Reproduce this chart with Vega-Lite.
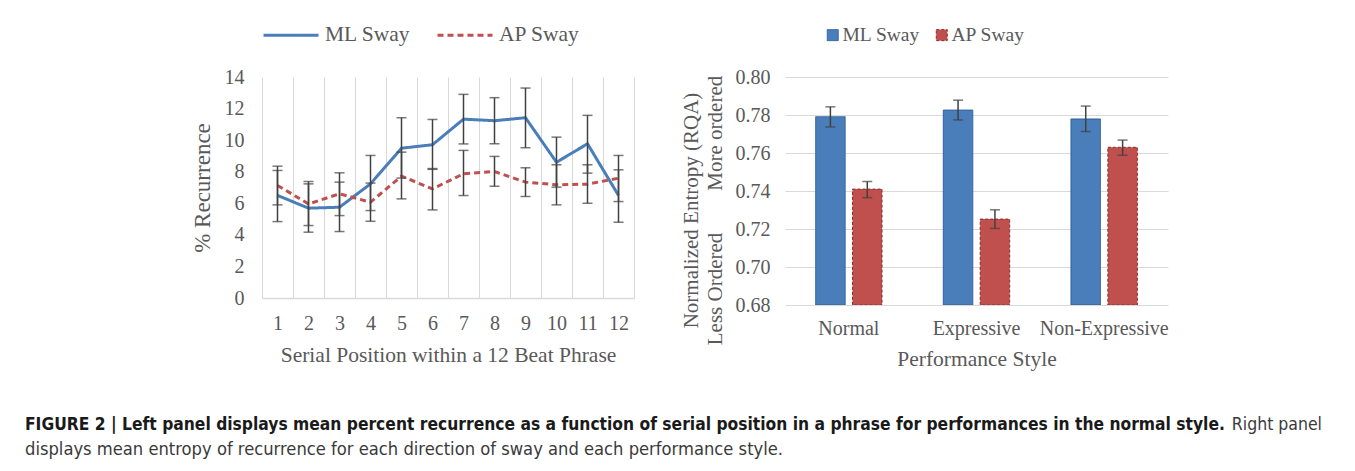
{
  "$schema": "https://vega.github.io/schema/vega-lite/v6.json",
  "padding": {"left": 25, "top": 6, "right": 15, "bottom": 5},
  "background": "white",
  "datasets": {
    "sway": [
      {"pos": 1, "dir": "ML Sway", "mean": 6.5, "lo": 4.84, "hi": 8.35},
      {"pos": 2, "dir": "ML Sway", "mean": 5.69, "lo": 4.17, "hi": 7.23},
      {"pos": 3, "dir": "ML Sway", "mean": 5.75, "lo": 4.21, "hi": 7.34},
      {"pos": 4, "dir": "ML Sway", "mean": 7.23, "lo": 5.54, "hi": 9.03},
      {"pos": 5, "dir": "ML Sway", "mean": 9.49, "lo": 7.6, "hi": 11.42},
      {"pos": 6, "dir": "ML Sway", "mean": 9.71, "lo": 8.15, "hi": 11.31},
      {"pos": 7, "dir": "ML Sway", "mean": 11.33, "lo": 9.76, "hi": 12.9},
      {"pos": 8, "dir": "ML Sway", "mean": 11.23, "lo": 9.77, "hi": 12.69},
      {"pos": 9, "dir": "ML Sway", "mean": 11.42, "lo": 9.52, "hi": 13.3},
      {"pos": 10, "dir": "ML Sway", "mean": 8.6, "lo": 7.02, "hi": 10.19},
      {"pos": 11, "dir": "ML Sway", "mean": 9.77, "lo": 7.91, "hi": 11.57},
      {"pos": 12, "dir": "ML Sway", "mean": 6.5, "lo": 4.8, "hi": 8.12},
      {"pos": 1, "dir": "AP Sway", "mean": 7.13, "lo": 5.9, "hi": 8.08},
      {"pos": 2, "dir": "AP Sway", "mean": 5.96, "lo": 4.59, "hi": 7.38},
      {"pos": 3, "dir": "AP Sway", "mean": 6.6, "lo": 5.22, "hi": 7.93},
      {"pos": 4, "dir": "AP Sway", "mean": 6.07, "lo": 4.86, "hi": 7.28},
      {"pos": 5, "dir": "AP Sway", "mean": 7.72, "lo": 6.28, "hi": 9.24},
      {"pos": 6, "dir": "AP Sway", "mean": 6.91, "lo": 5.58, "hi": 8.2},
      {"pos": 7, "dir": "AP Sway", "mean": 7.87, "lo": 6.49, "hi": 9.35},
      {"pos": 8, "dir": "AP Sway", "mean": 8.01, "lo": 7.08, "hi": 8.97},
      {"pos": 9, "dir": "AP Sway", "mean": 7.34, "lo": 6.43, "hi": 8.25},
      {"pos": 10, "dir": "AP Sway", "mean": 7.17, "lo": 5.9, "hi": 8.44},
      {"pos": 11, "dir": "AP Sway", "mean": 7.21, "lo": 6.0, "hi": 8.44},
      {"pos": 12, "dir": "AP Sway", "mean": 7.59, "lo": 6.11, "hi": 9.03}
    ],
    "entropy": [
      {"style": "Normal", "dir": "ML Sway", "mean": 0.7791, "lo": 0.7737, "hi": 0.7843},
      {"style": "Normal", "dir": "AP Sway", "mean": 0.741, "lo": 0.7365, "hi": 0.745},
      {"style": "Expressive", "dir": "ML Sway", "mean": 0.7826, "lo": 0.7774, "hi": 0.7878},
      {"style": "Expressive", "dir": "AP Sway", "mean": 0.7252, "lo": 0.7203, "hi": 0.7301},
      {"style": "Non-Expressive", "dir": "ML Sway", "mean": 0.7779, "lo": 0.7713, "hi": 0.7847},
      {"style": "Non-Expressive", "dir": "AP Sway", "mean": 0.763, "lo": 0.7588, "hi": 0.7668}
    ],
    "caption": [
      {"line": 1, "part": "bold", "text": "FIGURE 2 | Left panel displays mean percent recurrence as a function of serial position in a phrase for performances in the normal style."},
      {"line": 1, "part": "tail", "text": "Right panel"},
      {"line": 2, "part": "start", "text": "displays mean entropy of recurrence for each direction of sway and each performance style."}
    ]
  },
  "vconcat": [
    {
      "hconcat": [
        {
          "width": 121,
          "height": 10,
          "data": {"values": [{}]},
          "mark": {"type": "rect", "opacity": 0},
          "encoding": {}
        },
        {
          "width": 372,
          "height": 221,
          "data": {"name": "sway"},
          "layer": [
            {
              "mark": {"type": "line", "strokeWidth": 3},
              "encoding": {
                "x": {
                  "field": "pos", "type": "ordinal",
                  "scale": {"type": "band", "paddingInner": 0, "paddingOuter": 0},
                  "title": "Serial Position within a 12 Beat Phrase",
                  "axis": {"labelAngle": 0, "grid": true, "tickBand": "extent", "ticks": false, "gridColor": "#d9d9d9", "domainColor": "#d9d9d9", "domainWidth": 1.5, "labelPadding": 15, "titlePadding": 11, "titleFontSize": 21.5}
                },
                "y": {
                  "field": "mean", "type": "quantitative",
                  "scale": {"domain": [0, 14]},
                  "title": "% Recurrence",
                  "axis": {"values": [0, 2, 4, 6, 8, 10, 12, 14], "labelOverlap": false, "grid": false, "domain": false, "ticks": false, "labelPadding": 18, "titlePadding": 10, "titleFontSize": 23}
                },
                "color": {
                  "field": "dir", "type": "nominal",
                  "scale": {"domain": ["ML Sway", "AP Sway"], "range": ["#4a7ebb", "#c0504d"]},
                  "legend": {
                    "orient": "top", "title": null, "symbolType": "stroke", "symbolSize": 3025, "symbolStrokeWidth": 3, "columnPadding": 20, "labelFontSize": 21.5, "labelColor": "#595959", "labelFont": "Liberation Serif", "labelOffset": 5, "offset": 31,
                    "encode": {"symbols": {"update": {"strokeDash": {"signal": "datum.value === 'AP Sway' ? [6, 4] : [1, 0]"}}}}
                  }
                },
                "strokeDash": {
                  "field": "dir", "type": "nominal",
                  "scale": {"domain": ["ML Sway", "AP Sway"], "range": [[1, 0], [6, 4]]},
                  "legend": null
                }
              }
            },
            {
              "mark": {"type": "errorbar", "color": "#404040", "thickness": 1.5, "ticks": {"size": 10}},
              "encoding": {
                "x": {"field": "pos", "type": "ordinal", "title": "Serial Position within a 12 Beat Phrase",
                  "axis": {"labelAngle": 0, "grid": true, "tickBand": "extent", "ticks": false, "gridColor": "#d9d9d9", "domainColor": "#d9d9d9", "domainWidth": 1.5, "labelPadding": 15, "titlePadding": 11, "titleFontSize": 21.5}},
                "y": {"field": "lo", "type": "quantitative", "title": "% Recurrence",
                  "axis": {"values": [0, 2, 4, 6, 8, 10, 12, 14], "labelOverlap": false, "grid": false, "domain": false, "ticks": false, "labelPadding": 18, "titlePadding": 10, "titleFontSize": 23}},
                "y2": {"field": "hi"}
              }
            }
          ]
        },
        {
          "width": 383,
          "height": 228,
          "data": {"name": "entropy"},
          "layer": [
            {
              "mark": {"type": "bar", "strokeWidth": 1, "clip": true},
              "encoding": {
                "x": {
                  "field": "style", "type": "nominal",
                  "sort": ["Normal", "Expressive", "Non-Expressive"],
                  "scale": {"paddingInner": 0.48, "paddingOuter": 0.24},
                  "title": "Performance Style",
                  "axis": {"labelAngle": 0, "domain": false, "ticks": false, "labelPadding": 13, "titlePadding": 10, "titleFontSize": 21.5}
                },
                "xOffset": {
                  "field": "dir", "type": "nominal",
                  "sort": ["ML Sway", "AP Sway"],
                  "scale": {"paddingInner": 0.2}
                },
                "y": {
                  "field": "mean", "type": "quantitative",
                  "scale": {"domain": [0.68, 0.8], "zero": false, "clamp": true},
                  "title": ["Normalized Entropy (RQA)", "Less Ordered\u00a0\u00a0\u00a0\u00a0\u00a0\u00a0\u00a0\u00a0More ordered"],
                  "axis": {"values": [0.68, 0.7, 0.72, 0.74, 0.76, 0.78, 0.8], "labelOverlap": false, "format": ".2f", "grid": true, "gridColor": "#d9d9d9", "domain": false, "ticks": false, "labelPadding": 15, "titlePadding": 10, "titleLineHeight": 24, "titleFontSize": 21, "titleY": 133}
                },
                "color": {
                  "field": "dir", "type": "nominal",
                  "scale": {"domain": ["ML Sway", "AP Sway"], "range": ["#4a7ebb", "#c0504d"]},
                  "legend": {
                    "orient": "none", "legendX": 38, "legendY": -52, "direction": "horizontal", "title": null, "symbolType": "square", "symbolSize": 121, "columnPadding": 12, "labelOffset": 0, "labelFontSize": 19.5, "labelColor": "#595959", "labelFont": "Liberation Serif", "symbolStrokeWidth": 1,
                    "encode": {"symbols": {"update": {
                      "stroke": {"signal": "datum.value === 'AP Sway' ? '#8c2a2a' : '#2f5f99'"},
                      "strokeDash": {"signal": "datum.value === 'AP Sway' ? [3, 2] : [1, 0]"}
                    }}}
                  }
                },
                "stroke": {
                  "field": "dir", "type": "nominal",
                  "scale": {"domain": ["ML Sway", "AP Sway"], "range": ["#2f5f99", "#8c2a2a"]},
                  "legend": null
                },
                "strokeDash": {
                  "field": "dir", "type": "nominal",
                  "scale": {"domain": ["ML Sway", "AP Sway"], "range": [[1, 0], [3, 2]]},
                  "legend": null
                }
              }
            },
            {
              "mark": {"type": "errorbar", "color": "#404040", "thickness": 1.5, "ticks": {"size": 10}},
              "encoding": {
                "x": {"field": "style", "type": "nominal", "sort": ["Normal", "Expressive", "Non-Expressive"], "title": "Performance Style",
                  "axis": {"labelAngle": 0, "domain": false, "ticks": false, "labelPadding": 13, "titlePadding": 10, "titleFontSize": 21.5}},
                "xOffset": {"field": "dir", "type": "nominal", "sort": ["ML Sway", "AP Sway"]},
                "y": {"field": "lo", "type": "quantitative", "title": ["Normalized Entropy (RQA)", "Less Ordered\u00a0\u00a0\u00a0\u00a0\u00a0\u00a0\u00a0\u00a0More ordered"],
                  "axis": {"values": [0.68, 0.7, 0.72, 0.74, 0.76, 0.78, 0.8], "labelOverlap": false, "format": ".2f", "grid": true, "gridColor": "#d9d9d9", "domain": false, "ticks": false, "labelPadding": 15, "titlePadding": 10, "titleLineHeight": 24, "titleFontSize": 21, "titleY": 133}},
                "y2": {"field": "hi"}
              }
            }
          ]
        }
      ],
      "spacing": 45,
      "resolve": {"scale": {"color": "independent", "strokeDash": "independent", "stroke": "independent"}, "legend": {"color": "independent", "strokeDash": "independent", "stroke": "independent"}}
    },
    {
      "width": 1297,
      "height": 50,
      "data": {"name": "caption"},
      "encoding": {
        "y": {"field": "line", "type": "ordinal", "axis": null, "scale": {"type": "point", "padding": 0.5}}
      },
      "layer": [
        {
          "transform": [{"filter": "datum.part === 'bold'"}],
          "mark": {"type": "text", "align": "left", "baseline": "middle", "font": "DejaVu Sans Condensed, Roboto, sans-serif", "fontWeight": "bold", "fontSize": 17.3, "color": "#1a1a1a"},
          "encoding": {"x": {"datum": 0, "type": "quantitative", "scale": {"domain": [0, 1]}, "axis": null}, "text": {"field": "text"}}
        },
        {
          "transform": [{"filter": "datum.part === 'tail'"}],
          "mark": {"type": "text", "align": "right", "baseline": "middle", "font": "DejaVu Sans Condensed, Roboto, sans-serif", "fontSize": 17.5, "color": "#3a3a3a"},
          "encoding": {"x": {"datum": 1, "type": "quantitative"}, "text": {"field": "text"}}
        },
        {
          "transform": [{"filter": "datum.part === 'start'"}],
          "mark": {"type": "text", "align": "left", "baseline": "middle", "font": "DejaVu Sans Condensed, Roboto, sans-serif", "fontSize": 18.2, "color": "#3a3a3a"},
          "encoding": {"x": {"datum": 0, "type": "quantitative"}, "text": {"field": "text"}}
        }
      ]
    }
  ],
  "center": false,
  "spacing": 42,
  "config": {
    "view": {"stroke": null},
    "font": "Liberation Serif",
    "axis": {"labelFont": "Liberation Serif", "titleFont": "Liberation Serif", "labelFontSize": 20, "titleFontSize": 21.5, "labelColor": "#595959", "titleColor": "#595959", "titleFontWeight": "normal"},
    "legend": {"labelFont": "Liberation Serif"}
  }
}
